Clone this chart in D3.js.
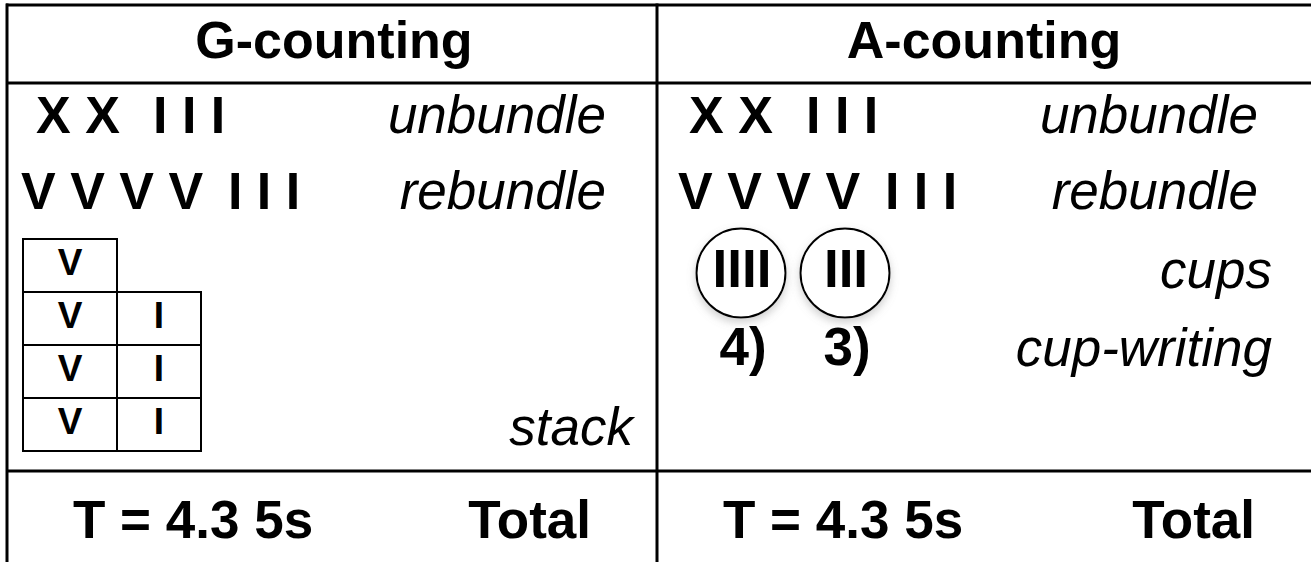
<!DOCTYPE html>
<html>
<head>
<meta charset="utf-8">
<script src="https://cdn.jsdelivr.net/npm/d3@7"></script>
<style>
  html, body { margin: 0; padding: 0; background: #fff; }
  svg { display: block; }
  text { font-family: "Liberation Sans", Arial, Helvetica, sans-serif; fill: #000; white-space: pre; }
</style>
</head>
<body>
<svg id="chart" width="1311" height="562"></svg>
<script>
// ---- data ----
const panels = ["G-counting", "A-counting"];
const unbundleRow = "X X \u200A I I I";
const rebundleRow = "V V V V \u2009I I I";
const gSteps = ["unbundle", "rebundle", "stack"];
const aSteps = ["unbundle", "rebundle", "cups", "cup-writing"];
const stackLeft = ["V", "V", "V", "V"];
const stackRight = [null, "I", "I", "I"];
const cupTallies = ["IIII", "III"];
const cupWriting = ["4)", "3)"];
const totalValues = ["T = 4.3 5s", "T = 4.3 5s"];
const totalLabels = ["Total", "Total"];

// ---- layout ----
const W = 1311, H = 562;
const svg = d3.select("#chart");
svg.append("rect").attr("width", W).attr("height", H).attr("fill", "#fff");

const defs = svg.append("defs");
const f = defs.append("filter").attr("id", "shadow").attr("x", "-30%").attr("y", "-30%").attr("width", "160%").attr("height", "170%");
f.append("feDropShadow").attr("dx", 0).attr("dy", 4).attr("stdDeviation", 4)
  .attr("flood-color", "#888").attr("flood-opacity", 0.4);

const x = d3.scaleBand().domain(panels).range([7, 1307]);
const rows = d3.scaleOrdinal().domain(["top", "head", "body"]).range([5, 83, 471]);

const grid = svg.append("g").attr("stroke", "#000").attr("stroke-width", 3);
rows.domain().forEach(k => {
  grid.append("line").attr("x1", 6).attr("x2", W).attr("y1", rows(k)).attr("y2", rows(k));
});
panels.forEach(p => {
  grid.append("line").attr("x1", x(p)).attr("x2", x(p)).attr("y1", rows("top") - 1.5).attr("y2", H);
});

// headers
svg.selectAll("text.header").data(panels).join("text")
  .attr("class", "header")
  .attr("x", d => x(d) + x.bandwidth() / 2 + 2)
  .attr("y", 58)
  .attr("text-anchor", "middle")
  .attr("font-weight", "bold")
  .attr("font-size", 52)
  .text(d => d);

const baseRow1 = 133, baseRow2 = 209;
const symOffsets = [[29, 14], [32, 21]];
panels.forEach((p, i) => {
  const x0 = x(p);
  svg.append("text").attr("x", x0 + symOffsets[i][0]).attr("y", baseRow1)
    .attr("font-weight", "bold").attr("font-size", 52).text(unbundleRow);
  svg.append("text").attr("x", x0 + symOffsets[i][1]).attr("y", baseRow2)
    .attr("font-weight", "bold").attr("font-size", 52).text(rebundleRow);
});

// step labels (italic, right aligned)
const italic = (sel) => sel.attr("font-style", "italic").attr("font-size", 53).attr("text-anchor", "end");
const gX = x(panels[0]);
const aX = x(panels[1]);
const gStepY = [baseRow1, baseRow2, 445];
const gStepR = [599, 599, 626];
gSteps.forEach((s, i) => {
  svg.append("text").attr("x", gX + gStepR[i]).attr("y", gStepY[i]).call(italic).text(s);
});
const aStepY = [baseRow1, baseRow2, 288, 366];
const aStepR = [601, 601, 615, 615];
aSteps.forEach((s, i) => {
  svg.append("text").attr("x", aX + aStepR[i]).attr("y", aStepY[i]).call(italic).text(s);
});

// stack table
const sy = d3.scaleBand().domain(d3.range(stackLeft.length)).range([239, 451]);
const sx = d3.scaleLinear().domain([0, 1, 2]).range([23, 117, 201]);
const stack = svg.append("g");
const cells = [];
stackLeft.forEach((v, r) => cells.push({ r, c: 0, v }));
stackRight.forEach((v, r) => { if (v) cells.push({ r, c: 1, v }); });
stack.selectAll("rect").data(cells).join("rect")
  .attr("x", d => sx(d.c)).attr("y", d => sy(d.r))
  .attr("width", d => sx(d.c + 1) - sx(d.c)).attr("height", sy.bandwidth())
  .attr("fill", "none").attr("stroke", "#000").attr("stroke-width", 2);
stack.selectAll("text").data(cells).join("text")
  .attr("x", d => (sx(d.c) + sx(d.c + 1)) / 2)
  .attr("y", d => sy(d.r) + sy.bandwidth() / 2 + 9)
  .attr("text-anchor", "middle").attr("font-weight", "bold").attr("font-size", 37)
  .text(d => d.v);

// cups
const cx = d3.scalePoint().domain(d3.range(cupTallies.length)).range([aX + 84, aX + 188]);
const cupY = 273, cupR = 44.5;
const cups = svg.append("g");
cups.selectAll("circle").data(cupTallies).join("circle")
  .attr("cx", (d, i) => cx(i)).attr("cy", cupY).attr("r", cupR)
  .attr("fill", "#fff").attr("stroke", "#000").attr("stroke-width", 2)
  .attr("filter", "url(#shadow)");
cups.selectAll("text.tally").data(cupTallies).join("text")
  .attr("class", "tally")
  .attr("x", (d, i) => cx(i) + 1).attr("y", cupY + 14)
  .attr("text-anchor", "middle").attr("font-weight", "bold").attr("font-size", 53)
  .text(d => d);
cups.selectAll("text.cw").data(cupWriting).join("text")
  .attr("class", "cw")
  .attr("x", (d, i) => cx(i) + 2).attr("y", 365)
  .attr("text-anchor", "middle").attr("font-weight", "bold").attr("font-size", 53)
  .text(d => d);

// totals row
const totR = [584, 598];
panels.forEach((p, i) => {
  svg.append("text").attr("x", x(p) + 66).attr("y", 538)
    .attr("font-weight", "bold").attr("font-size", 53).text(totalValues[i]);
  svg.append("text").attr("x", x(p) + totR[i]).attr("y", 538).attr("text-anchor", "end")
    .attr("font-weight", "bold").attr("font-size", 53).text(totalLabels[i]);
});
</script>
</body>
</html>
